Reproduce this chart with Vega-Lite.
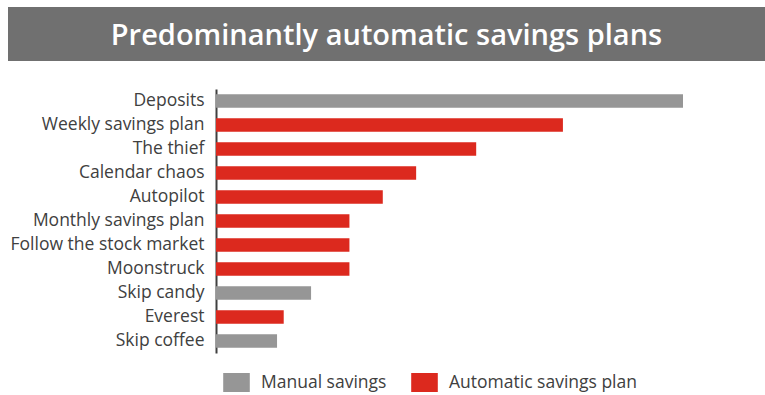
{
  "$schema": "https://vega.github.io/schema/vega-lite/v6.json",
  "padding": {"left": 8, "top": 7, "right": 0, "bottom": 0},
  "background": "white",
  "spacing": 28,
  "config": {"view": {"stroke": null}},
  "vconcat": [
    {
      "width": 757,
      "height": 54,
      "view": {"fill": "#707070", "stroke": null},
      "data": {"values": [{"t": "Predominantly automatic savings plans"}]},
      "mark": {"type": "text", "font": "Open Sans", "fontWeight": 600, "fontSize": 29, "color": "white", "baseline": "middle", "align": "center", "dy": 2},
      "encoding": {"text": {"field": "t"}}
    },
    {
      "width": 757,
      "height": 264,
      "data": {
        "values": [
          {"item": "Deposits", "value": 14, "type": "Manual savings"},
          {"item": "Weekly savings plan", "value": 10.4, "type": "Automatic savings plan"},
          {"item": "The thief", "value": 7.8, "type": "Automatic savings plan"},
          {"item": "Calendar chaos", "value": 6, "type": "Automatic savings plan"},
          {"item": "Autopilot", "value": 5, "type": "Automatic savings plan"},
          {"item": "Monthly savings plan", "value": 4, "type": "Automatic savings plan"},
          {"item": "Follow the stock market", "value": 4, "type": "Automatic savings plan"},
          {"item": "Moonstruck", "value": 4, "type": "Automatic savings plan"},
          {"item": "Skip candy", "value": 2.85, "type": "Manual savings"},
          {"item": "Everest", "value": 2.03, "type": "Automatic savings plan"},
          {"item": "Skip coffee", "value": 1.83, "type": "Manual savings"}
        ]
      },
      "mark": {"type": "bar"},
      "encoding": {
        "y": {
          "field": "item", "type": "nominal", "sort": null,
          "scale": {"paddingInner": 0.44, "paddingOuter": 0.22},
          "axis": {"title": null, "offset": -208, "ticks": false, "labelPadding": 12, "labelFontSize": 17.5, "labelFont": "Open Sans", "labelColor": "#404040", "labelLimit": 300, "domainColor": "#404040", "domainWidth": 2}
        },
        "x": {"field": "value", "type": "quantitative", "scale": {"domain": [-6.2355, 16.458], "nice": false, "zero": false}, "axis": null},
        "x2": {"datum": 0},
        "color": {
          "field": "type", "type": "nominal",
          "scale": {"domain": ["Manual savings", "Automatic savings plan"], "range": ["#969696", "#dc291e"]},
          "legend": {"orient": "none", "legendX": 219, "legendY": 366, "direction": "horizontal", "title": null, "symbolType": "M-1.4,-1H1.4V1H-1.4Z", "symbolSize": 361, "symbolStrokeWidth": 0, "symbolOpacity": 1, "labelFontSize": 17.5, "labelFont": "Open Sans", "labelColor": "#404040", "labelLimit": 300, "labelOffset": 15, "columnPadding": 24, "padding": 0}
        }
      }
    }
  ]
}
